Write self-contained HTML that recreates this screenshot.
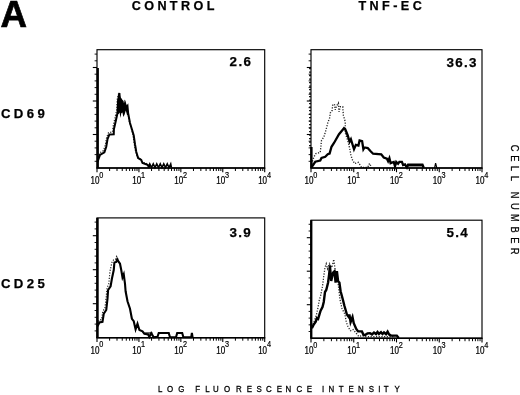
<!DOCTYPE html>
<html><head><meta charset="utf-8"><title>Figure A</title>
<style>html,body{margin:0;padding:0;background:#fff}svg{display:block}</style>
</head><body>
<svg width="520" height="395" viewBox="0 0 520 395">
<rect width="520" height="395" fill="#fff"/>
<text x="0.5" y="27.0" font-size="36.7" font-weight="bold" stroke="#000" stroke-width="0.7" font-family='"Liberation Sans", sans-serif'>A</text>
<text x="131.7" y="10.3" font-size="12.6" font-weight="bold" stroke="#000" stroke-width="0.25" letter-spacing="3.4" font-family='"Liberation Sans", sans-serif'>CONTROL</text>
<text x="358.4" y="10.3" font-size="12.6" font-weight="bold" stroke="#000" stroke-width="0.25" letter-spacing="3.45" font-family='"Liberation Sans", sans-serif'>TNF-EC</text>
<text x="0.9" y="118.4" font-size="13.2" font-weight="bold" stroke="#000" stroke-width="0.25" letter-spacing="3.4" font-family='"Liberation Sans", sans-serif'>CD69</text>
<text x="0.9" y="287.8" font-size="13.2" font-weight="bold" stroke="#000" stroke-width="0.25" letter-spacing="3.4" font-family='"Liberation Sans", sans-serif'>CD25</text>
<text transform="translate(0,392.2) scale(0.86,1)" x="186.40 197.91 210.76" y="0" text-anchor="middle" font-size="9.2" stroke="#000" stroke-width="0.3" font-family='"Liberation Sans", sans-serif'>LOG</text>
<text transform="translate(0,392.2) scale(0.86,1)" x="230.00 241.28 251.05 264.19 277.62 290.00 301.28 312.50 324.88 335.35 348.14 359.77" y="0" text-anchor="middle" font-size="9.2" stroke="#000" stroke-width="0.3" font-family='"Liberation Sans", sans-serif'>FLUORESCENCE</text>
<text transform="translate(0,392.2) scale(0.86,1)" x="375.70 385.41 396.80 408.43 419.65 431.92 440.99 449.13 461.86" y="0" text-anchor="middle" font-size="9.2" stroke="#000" stroke-width="0.3" font-family='"Liberation Sans", sans-serif'>INTENSITY</text>
<text transform="translate(510.7,0) rotate(90) scale(0.85,1)" x="174.24 186.24 198.00 209.76" y="0" text-anchor="middle" font-size="11" stroke="#000" stroke-width="0.25" font-family='"Liberation Sans", sans-serif'>CELL</text>
<text transform="translate(510.7,0) rotate(90) scale(0.85,1)" x="229.53 242.94 256.47 270.12 282.71 295.53" y="0" text-anchor="middle" font-size="11" stroke="#000" stroke-width="0.25" font-family='"Liberation Sans", sans-serif'>NUMBER</text>
<rect x="97" y="49.7" width="167.7" height="118.3" fill="none" stroke="#000" stroke-width="1.15"/>
<line x1="96.5" y1="168" x2="265.2" y2="168" stroke="#000" stroke-width="1.35"/>
<line x1="97.00" y1="168" x2="97.00" y2="172.2" stroke="#000" stroke-width="1.1"/>
<line x1="109.62" y1="168" x2="109.62" y2="171.0" stroke="#000" stroke-width="1.0"/>
<line x1="117.00" y1="168" x2="117.00" y2="171.0" stroke="#000" stroke-width="1.0"/>
<line x1="122.24" y1="168" x2="122.24" y2="171.0" stroke="#000" stroke-width="1.0"/>
<line x1="126.30" y1="168" x2="126.30" y2="171.0" stroke="#000" stroke-width="1.0"/>
<line x1="129.62" y1="168" x2="129.62" y2="171.0" stroke="#000" stroke-width="1.0"/>
<line x1="132.43" y1="168" x2="132.43" y2="171.0" stroke="#000" stroke-width="1.0"/>
<line x1="134.86" y1="168" x2="134.86" y2="171.0" stroke="#000" stroke-width="1.0"/>
<line x1="137.01" y1="168" x2="137.01" y2="171.0" stroke="#000" stroke-width="1.0"/>
<text transform="translate(99.40,183.8) scale(0.79,1)" text-anchor="end" font-size="10.2" stroke="#000" stroke-width="0.25" font-family='"Liberation Sans", sans-serif'>10</text>
<text transform="translate(99.20,177.7) scale(0.85,1)" font-size="8.6" stroke="#000" stroke-width="0.2" font-family='"Liberation Sans", sans-serif'>0</text>
<line x1="138.93" y1="168" x2="138.93" y2="172.2" stroke="#000" stroke-width="1.1"/>
<line x1="151.55" y1="168" x2="151.55" y2="171.0" stroke="#000" stroke-width="1.0"/>
<line x1="158.93" y1="168" x2="158.93" y2="171.0" stroke="#000" stroke-width="1.0"/>
<line x1="164.17" y1="168" x2="164.17" y2="171.0" stroke="#000" stroke-width="1.0"/>
<line x1="168.23" y1="168" x2="168.23" y2="171.0" stroke="#000" stroke-width="1.0"/>
<line x1="171.55" y1="168" x2="171.55" y2="171.0" stroke="#000" stroke-width="1.0"/>
<line x1="174.36" y1="168" x2="174.36" y2="171.0" stroke="#000" stroke-width="1.0"/>
<line x1="176.79" y1="168" x2="176.79" y2="171.0" stroke="#000" stroke-width="1.0"/>
<line x1="178.93" y1="168" x2="178.93" y2="171.0" stroke="#000" stroke-width="1.0"/>
<text transform="translate(141.33,183.8) scale(0.79,1)" text-anchor="end" font-size="10.2" stroke="#000" stroke-width="0.25" font-family='"Liberation Sans", sans-serif'>10</text>
<text transform="translate(141.12,177.7) scale(0.85,1)" font-size="8.6" stroke="#000" stroke-width="0.2" font-family='"Liberation Sans", sans-serif'>1</text>
<line x1="180.85" y1="168" x2="180.85" y2="172.2" stroke="#000" stroke-width="1.1"/>
<line x1="193.47" y1="168" x2="193.47" y2="171.0" stroke="#000" stroke-width="1.0"/>
<line x1="200.85" y1="168" x2="200.85" y2="171.0" stroke="#000" stroke-width="1.0"/>
<line x1="206.09" y1="168" x2="206.09" y2="171.0" stroke="#000" stroke-width="1.0"/>
<line x1="210.15" y1="168" x2="210.15" y2="171.0" stroke="#000" stroke-width="1.0"/>
<line x1="213.47" y1="168" x2="213.47" y2="171.0" stroke="#000" stroke-width="1.0"/>
<line x1="216.28" y1="168" x2="216.28" y2="171.0" stroke="#000" stroke-width="1.0"/>
<line x1="218.71" y1="168" x2="218.71" y2="171.0" stroke="#000" stroke-width="1.0"/>
<line x1="220.86" y1="168" x2="220.86" y2="171.0" stroke="#000" stroke-width="1.0"/>
<text transform="translate(183.25,183.8) scale(0.79,1)" text-anchor="end" font-size="10.2" stroke="#000" stroke-width="0.25" font-family='"Liberation Sans", sans-serif'>10</text>
<text transform="translate(183.05,177.7) scale(0.85,1)" font-size="8.6" stroke="#000" stroke-width="0.2" font-family='"Liberation Sans", sans-serif'>2</text>
<line x1="222.77" y1="168" x2="222.77" y2="172.2" stroke="#000" stroke-width="1.1"/>
<line x1="235.40" y1="168" x2="235.40" y2="171.0" stroke="#000" stroke-width="1.0"/>
<line x1="242.78" y1="168" x2="242.78" y2="171.0" stroke="#000" stroke-width="1.0"/>
<line x1="248.02" y1="168" x2="248.02" y2="171.0" stroke="#000" stroke-width="1.0"/>
<line x1="252.08" y1="168" x2="252.08" y2="171.0" stroke="#000" stroke-width="1.0"/>
<line x1="255.40" y1="168" x2="255.40" y2="171.0" stroke="#000" stroke-width="1.0"/>
<line x1="258.21" y1="168" x2="258.21" y2="171.0" stroke="#000" stroke-width="1.0"/>
<line x1="260.64" y1="168" x2="260.64" y2="171.0" stroke="#000" stroke-width="1.0"/>
<line x1="262.78" y1="168" x2="262.78" y2="171.0" stroke="#000" stroke-width="1.0"/>
<text transform="translate(225.17,183.8) scale(0.79,1)" text-anchor="end" font-size="10.2" stroke="#000" stroke-width="0.25" font-family='"Liberation Sans", sans-serif'>10</text>
<text transform="translate(224.97,177.7) scale(0.85,1)" font-size="8.6" stroke="#000" stroke-width="0.2" font-family='"Liberation Sans", sans-serif'>3</text>
<line x1="264.70" y1="168" x2="264.70" y2="172.2" stroke="#000" stroke-width="1.1"/>
<text transform="translate(267.10,183.8) scale(0.79,1)" text-anchor="end" font-size="10.2" stroke="#000" stroke-width="0.25" font-family='"Liberation Sans", sans-serif'>10</text>
<text transform="translate(266.90,177.7) scale(0.85,1)" font-size="8.6" stroke="#000" stroke-width="0.2" font-family='"Liberation Sans", sans-serif'>4</text>
<line x1="94.6" y1="161.30" x2="97" y2="161.30" stroke="#000" stroke-width="0.9"/>
<line x1="94.6" y1="154.60" x2="97" y2="154.60" stroke="#000" stroke-width="0.9"/>
<line x1="94.6" y1="147.90" x2="97" y2="147.90" stroke="#000" stroke-width="0.9"/>
<line x1="94.6" y1="141.20" x2="97" y2="141.20" stroke="#000" stroke-width="0.9"/>
<line x1="92.8" y1="134.50" x2="97" y2="134.50" stroke="#000" stroke-width="1.1"/>
<line x1="94.6" y1="127.80" x2="97" y2="127.80" stroke="#000" stroke-width="0.9"/>
<line x1="94.6" y1="121.10" x2="97" y2="121.10" stroke="#000" stroke-width="0.9"/>
<line x1="94.6" y1="114.40" x2="97" y2="114.40" stroke="#000" stroke-width="0.9"/>
<line x1="94.6" y1="107.70" x2="97" y2="107.70" stroke="#000" stroke-width="0.9"/>
<line x1="92.8" y1="101.00" x2="97" y2="101.00" stroke="#000" stroke-width="1.1"/>
<line x1="94.6" y1="94.30" x2="97" y2="94.30" stroke="#000" stroke-width="0.9"/>
<line x1="94.6" y1="87.60" x2="97" y2="87.60" stroke="#000" stroke-width="0.9"/>
<line x1="94.6" y1="80.90" x2="97" y2="80.90" stroke="#000" stroke-width="0.9"/>
<line x1="94.6" y1="74.20" x2="97" y2="74.20" stroke="#000" stroke-width="0.9"/>
<line x1="92.8" y1="67.50" x2="97" y2="67.50" stroke="#000" stroke-width="1.1"/>
<line x1="94.6" y1="60.80" x2="97" y2="60.80" stroke="#000" stroke-width="0.9"/>
<line x1="94.6" y1="54.10" x2="97" y2="54.10" stroke="#000" stroke-width="0.9"/>
<text x="229.6" y="66.2" font-size="13.4" font-weight="bold" stroke="#000" stroke-width="0.25" letter-spacing="1.35" font-family='"Liberation Sans", sans-serif'>2.6</text>
<rect x="311" y="49.7" width="171" height="118.3" fill="none" stroke="#000" stroke-width="1.15"/>
<line x1="310.5" y1="168" x2="482.5" y2="168" stroke="#000" stroke-width="1.35"/>
<line x1="311.00" y1="168" x2="311.00" y2="172.2" stroke="#000" stroke-width="1.1"/>
<line x1="323.87" y1="168" x2="323.87" y2="171.0" stroke="#000" stroke-width="1.0"/>
<line x1="331.40" y1="168" x2="331.40" y2="171.0" stroke="#000" stroke-width="1.0"/>
<line x1="336.74" y1="168" x2="336.74" y2="171.0" stroke="#000" stroke-width="1.0"/>
<line x1="340.88" y1="168" x2="340.88" y2="171.0" stroke="#000" stroke-width="1.0"/>
<line x1="344.27" y1="168" x2="344.27" y2="171.0" stroke="#000" stroke-width="1.0"/>
<line x1="347.13" y1="168" x2="347.13" y2="171.0" stroke="#000" stroke-width="1.0"/>
<line x1="349.61" y1="168" x2="349.61" y2="171.0" stroke="#000" stroke-width="1.0"/>
<line x1="351.79" y1="168" x2="351.79" y2="171.0" stroke="#000" stroke-width="1.0"/>
<text transform="translate(313.40,183.8) scale(0.79,1)" text-anchor="end" font-size="10.2" stroke="#000" stroke-width="0.25" font-family='"Liberation Sans", sans-serif'>10</text>
<text transform="translate(313.20,177.7) scale(0.85,1)" font-size="8.6" stroke="#000" stroke-width="0.2" font-family='"Liberation Sans", sans-serif'>0</text>
<line x1="353.75" y1="168" x2="353.75" y2="172.2" stroke="#000" stroke-width="1.1"/>
<line x1="366.62" y1="168" x2="366.62" y2="171.0" stroke="#000" stroke-width="1.0"/>
<line x1="374.15" y1="168" x2="374.15" y2="171.0" stroke="#000" stroke-width="1.0"/>
<line x1="379.49" y1="168" x2="379.49" y2="171.0" stroke="#000" stroke-width="1.0"/>
<line x1="383.63" y1="168" x2="383.63" y2="171.0" stroke="#000" stroke-width="1.0"/>
<line x1="387.02" y1="168" x2="387.02" y2="171.0" stroke="#000" stroke-width="1.0"/>
<line x1="389.88" y1="168" x2="389.88" y2="171.0" stroke="#000" stroke-width="1.0"/>
<line x1="392.36" y1="168" x2="392.36" y2="171.0" stroke="#000" stroke-width="1.0"/>
<line x1="394.54" y1="168" x2="394.54" y2="171.0" stroke="#000" stroke-width="1.0"/>
<text transform="translate(356.15,183.8) scale(0.79,1)" text-anchor="end" font-size="10.2" stroke="#000" stroke-width="0.25" font-family='"Liberation Sans", sans-serif'>10</text>
<text transform="translate(355.95,177.7) scale(0.85,1)" font-size="8.6" stroke="#000" stroke-width="0.2" font-family='"Liberation Sans", sans-serif'>1</text>
<line x1="396.50" y1="168" x2="396.50" y2="172.2" stroke="#000" stroke-width="1.1"/>
<line x1="409.37" y1="168" x2="409.37" y2="171.0" stroke="#000" stroke-width="1.0"/>
<line x1="416.90" y1="168" x2="416.90" y2="171.0" stroke="#000" stroke-width="1.0"/>
<line x1="422.24" y1="168" x2="422.24" y2="171.0" stroke="#000" stroke-width="1.0"/>
<line x1="426.38" y1="168" x2="426.38" y2="171.0" stroke="#000" stroke-width="1.0"/>
<line x1="429.77" y1="168" x2="429.77" y2="171.0" stroke="#000" stroke-width="1.0"/>
<line x1="432.63" y1="168" x2="432.63" y2="171.0" stroke="#000" stroke-width="1.0"/>
<line x1="435.11" y1="168" x2="435.11" y2="171.0" stroke="#000" stroke-width="1.0"/>
<line x1="437.29" y1="168" x2="437.29" y2="171.0" stroke="#000" stroke-width="1.0"/>
<text transform="translate(398.90,183.8) scale(0.79,1)" text-anchor="end" font-size="10.2" stroke="#000" stroke-width="0.25" font-family='"Liberation Sans", sans-serif'>10</text>
<text transform="translate(398.70,177.7) scale(0.85,1)" font-size="8.6" stroke="#000" stroke-width="0.2" font-family='"Liberation Sans", sans-serif'>2</text>
<line x1="439.25" y1="168" x2="439.25" y2="172.2" stroke="#000" stroke-width="1.1"/>
<line x1="452.12" y1="168" x2="452.12" y2="171.0" stroke="#000" stroke-width="1.0"/>
<line x1="459.65" y1="168" x2="459.65" y2="171.0" stroke="#000" stroke-width="1.0"/>
<line x1="464.99" y1="168" x2="464.99" y2="171.0" stroke="#000" stroke-width="1.0"/>
<line x1="469.13" y1="168" x2="469.13" y2="171.0" stroke="#000" stroke-width="1.0"/>
<line x1="472.52" y1="168" x2="472.52" y2="171.0" stroke="#000" stroke-width="1.0"/>
<line x1="475.38" y1="168" x2="475.38" y2="171.0" stroke="#000" stroke-width="1.0"/>
<line x1="477.86" y1="168" x2="477.86" y2="171.0" stroke="#000" stroke-width="1.0"/>
<line x1="480.04" y1="168" x2="480.04" y2="171.0" stroke="#000" stroke-width="1.0"/>
<text transform="translate(441.65,183.8) scale(0.79,1)" text-anchor="end" font-size="10.2" stroke="#000" stroke-width="0.25" font-family='"Liberation Sans", sans-serif'>10</text>
<text transform="translate(441.45,177.7) scale(0.85,1)" font-size="8.6" stroke="#000" stroke-width="0.2" font-family='"Liberation Sans", sans-serif'>3</text>
<line x1="482.00" y1="168" x2="482.00" y2="172.2" stroke="#000" stroke-width="1.1"/>
<text transform="translate(484.40,183.8) scale(0.79,1)" text-anchor="end" font-size="10.2" stroke="#000" stroke-width="0.25" font-family='"Liberation Sans", sans-serif'>10</text>
<text transform="translate(484.20,177.7) scale(0.85,1)" font-size="8.6" stroke="#000" stroke-width="0.2" font-family='"Liberation Sans", sans-serif'>4</text>
<line x1="308.6" y1="161.30" x2="311" y2="161.30" stroke="#000" stroke-width="0.9"/>
<line x1="308.6" y1="154.60" x2="311" y2="154.60" stroke="#000" stroke-width="0.9"/>
<line x1="308.6" y1="147.90" x2="311" y2="147.90" stroke="#000" stroke-width="0.9"/>
<line x1="308.6" y1="141.20" x2="311" y2="141.20" stroke="#000" stroke-width="0.9"/>
<line x1="306.8" y1="134.50" x2="311" y2="134.50" stroke="#000" stroke-width="1.1"/>
<line x1="308.6" y1="127.80" x2="311" y2="127.80" stroke="#000" stroke-width="0.9"/>
<line x1="308.6" y1="121.10" x2="311" y2="121.10" stroke="#000" stroke-width="0.9"/>
<line x1="308.6" y1="114.40" x2="311" y2="114.40" stroke="#000" stroke-width="0.9"/>
<line x1="308.6" y1="107.70" x2="311" y2="107.70" stroke="#000" stroke-width="0.9"/>
<line x1="306.8" y1="101.00" x2="311" y2="101.00" stroke="#000" stroke-width="1.1"/>
<line x1="308.6" y1="94.30" x2="311" y2="94.30" stroke="#000" stroke-width="0.9"/>
<line x1="308.6" y1="87.60" x2="311" y2="87.60" stroke="#000" stroke-width="0.9"/>
<line x1="308.6" y1="80.90" x2="311" y2="80.90" stroke="#000" stroke-width="0.9"/>
<line x1="308.6" y1="74.20" x2="311" y2="74.20" stroke="#000" stroke-width="0.9"/>
<line x1="306.8" y1="67.50" x2="311" y2="67.50" stroke="#000" stroke-width="1.1"/>
<line x1="308.6" y1="60.80" x2="311" y2="60.80" stroke="#000" stroke-width="0.9"/>
<line x1="308.6" y1="54.10" x2="311" y2="54.10" stroke="#000" stroke-width="0.9"/>
<text x="446.4" y="66.5" font-size="13.4" font-weight="bold" stroke="#000" stroke-width="0.25" letter-spacing="1.35" font-family='"Liberation Sans", sans-serif'>36.3</text>
<rect x="97" y="217.9" width="167.7" height="119.79999999999998" fill="none" stroke="#000" stroke-width="1.15"/>
<line x1="96.5" y1="337.7" x2="265.2" y2="337.7" stroke="#000" stroke-width="1.35"/>
<line x1="97.00" y1="337.7" x2="97.00" y2="341.9" stroke="#000" stroke-width="1.1"/>
<line x1="109.62" y1="337.7" x2="109.62" y2="340.7" stroke="#000" stroke-width="1.0"/>
<line x1="117.00" y1="337.7" x2="117.00" y2="340.7" stroke="#000" stroke-width="1.0"/>
<line x1="122.24" y1="337.7" x2="122.24" y2="340.7" stroke="#000" stroke-width="1.0"/>
<line x1="126.30" y1="337.7" x2="126.30" y2="340.7" stroke="#000" stroke-width="1.0"/>
<line x1="129.62" y1="337.7" x2="129.62" y2="340.7" stroke="#000" stroke-width="1.0"/>
<line x1="132.43" y1="337.7" x2="132.43" y2="340.7" stroke="#000" stroke-width="1.0"/>
<line x1="134.86" y1="337.7" x2="134.86" y2="340.7" stroke="#000" stroke-width="1.0"/>
<line x1="137.01" y1="337.7" x2="137.01" y2="340.7" stroke="#000" stroke-width="1.0"/>
<text transform="translate(99.40,353.5) scale(0.79,1)" text-anchor="end" font-size="10.2" stroke="#000" stroke-width="0.25" font-family='"Liberation Sans", sans-serif'>10</text>
<text transform="translate(99.20,347.4) scale(0.85,1)" font-size="8.6" stroke="#000" stroke-width="0.2" font-family='"Liberation Sans", sans-serif'>0</text>
<line x1="138.93" y1="337.7" x2="138.93" y2="341.9" stroke="#000" stroke-width="1.1"/>
<line x1="151.55" y1="337.7" x2="151.55" y2="340.7" stroke="#000" stroke-width="1.0"/>
<line x1="158.93" y1="337.7" x2="158.93" y2="340.7" stroke="#000" stroke-width="1.0"/>
<line x1="164.17" y1="337.7" x2="164.17" y2="340.7" stroke="#000" stroke-width="1.0"/>
<line x1="168.23" y1="337.7" x2="168.23" y2="340.7" stroke="#000" stroke-width="1.0"/>
<line x1="171.55" y1="337.7" x2="171.55" y2="340.7" stroke="#000" stroke-width="1.0"/>
<line x1="174.36" y1="337.7" x2="174.36" y2="340.7" stroke="#000" stroke-width="1.0"/>
<line x1="176.79" y1="337.7" x2="176.79" y2="340.7" stroke="#000" stroke-width="1.0"/>
<line x1="178.93" y1="337.7" x2="178.93" y2="340.7" stroke="#000" stroke-width="1.0"/>
<text transform="translate(141.33,353.5) scale(0.79,1)" text-anchor="end" font-size="10.2" stroke="#000" stroke-width="0.25" font-family='"Liberation Sans", sans-serif'>10</text>
<text transform="translate(141.12,347.4) scale(0.85,1)" font-size="8.6" stroke="#000" stroke-width="0.2" font-family='"Liberation Sans", sans-serif'>1</text>
<line x1="180.85" y1="337.7" x2="180.85" y2="341.9" stroke="#000" stroke-width="1.1"/>
<line x1="193.47" y1="337.7" x2="193.47" y2="340.7" stroke="#000" stroke-width="1.0"/>
<line x1="200.85" y1="337.7" x2="200.85" y2="340.7" stroke="#000" stroke-width="1.0"/>
<line x1="206.09" y1="337.7" x2="206.09" y2="340.7" stroke="#000" stroke-width="1.0"/>
<line x1="210.15" y1="337.7" x2="210.15" y2="340.7" stroke="#000" stroke-width="1.0"/>
<line x1="213.47" y1="337.7" x2="213.47" y2="340.7" stroke="#000" stroke-width="1.0"/>
<line x1="216.28" y1="337.7" x2="216.28" y2="340.7" stroke="#000" stroke-width="1.0"/>
<line x1="218.71" y1="337.7" x2="218.71" y2="340.7" stroke="#000" stroke-width="1.0"/>
<line x1="220.86" y1="337.7" x2="220.86" y2="340.7" stroke="#000" stroke-width="1.0"/>
<text transform="translate(183.25,353.5) scale(0.79,1)" text-anchor="end" font-size="10.2" stroke="#000" stroke-width="0.25" font-family='"Liberation Sans", sans-serif'>10</text>
<text transform="translate(183.05,347.4) scale(0.85,1)" font-size="8.6" stroke="#000" stroke-width="0.2" font-family='"Liberation Sans", sans-serif'>2</text>
<line x1="222.77" y1="337.7" x2="222.77" y2="341.9" stroke="#000" stroke-width="1.1"/>
<line x1="235.40" y1="337.7" x2="235.40" y2="340.7" stroke="#000" stroke-width="1.0"/>
<line x1="242.78" y1="337.7" x2="242.78" y2="340.7" stroke="#000" stroke-width="1.0"/>
<line x1="248.02" y1="337.7" x2="248.02" y2="340.7" stroke="#000" stroke-width="1.0"/>
<line x1="252.08" y1="337.7" x2="252.08" y2="340.7" stroke="#000" stroke-width="1.0"/>
<line x1="255.40" y1="337.7" x2="255.40" y2="340.7" stroke="#000" stroke-width="1.0"/>
<line x1="258.21" y1="337.7" x2="258.21" y2="340.7" stroke="#000" stroke-width="1.0"/>
<line x1="260.64" y1="337.7" x2="260.64" y2="340.7" stroke="#000" stroke-width="1.0"/>
<line x1="262.78" y1="337.7" x2="262.78" y2="340.7" stroke="#000" stroke-width="1.0"/>
<text transform="translate(225.17,353.5) scale(0.79,1)" text-anchor="end" font-size="10.2" stroke="#000" stroke-width="0.25" font-family='"Liberation Sans", sans-serif'>10</text>
<text transform="translate(224.97,347.4) scale(0.85,1)" font-size="8.6" stroke="#000" stroke-width="0.2" font-family='"Liberation Sans", sans-serif'>3</text>
<line x1="264.70" y1="337.7" x2="264.70" y2="341.9" stroke="#000" stroke-width="1.1"/>
<text transform="translate(267.10,353.5) scale(0.79,1)" text-anchor="end" font-size="10.2" stroke="#000" stroke-width="0.25" font-family='"Liberation Sans", sans-serif'>10</text>
<text transform="translate(266.90,347.4) scale(0.85,1)" font-size="8.6" stroke="#000" stroke-width="0.2" font-family='"Liberation Sans", sans-serif'>4</text>
<line x1="94.6" y1="330.90" x2="97" y2="330.90" stroke="#000" stroke-width="0.9"/>
<line x1="94.6" y1="324.10" x2="97" y2="324.10" stroke="#000" stroke-width="0.9"/>
<line x1="94.6" y1="317.30" x2="97" y2="317.30" stroke="#000" stroke-width="0.9"/>
<line x1="94.6" y1="310.50" x2="97" y2="310.50" stroke="#000" stroke-width="0.9"/>
<line x1="92.8" y1="303.70" x2="97" y2="303.70" stroke="#000" stroke-width="1.1"/>
<line x1="94.6" y1="296.90" x2="97" y2="296.90" stroke="#000" stroke-width="0.9"/>
<line x1="94.6" y1="290.10" x2="97" y2="290.10" stroke="#000" stroke-width="0.9"/>
<line x1="94.6" y1="283.30" x2="97" y2="283.30" stroke="#000" stroke-width="0.9"/>
<line x1="94.6" y1="276.50" x2="97" y2="276.50" stroke="#000" stroke-width="0.9"/>
<line x1="92.8" y1="269.70" x2="97" y2="269.70" stroke="#000" stroke-width="1.1"/>
<line x1="94.6" y1="262.90" x2="97" y2="262.90" stroke="#000" stroke-width="0.9"/>
<line x1="94.6" y1="256.10" x2="97" y2="256.10" stroke="#000" stroke-width="0.9"/>
<line x1="94.6" y1="249.30" x2="97" y2="249.30" stroke="#000" stroke-width="0.9"/>
<line x1="94.6" y1="242.50" x2="97" y2="242.50" stroke="#000" stroke-width="0.9"/>
<line x1="92.8" y1="235.70" x2="97" y2="235.70" stroke="#000" stroke-width="1.1"/>
<line x1="94.6" y1="228.90" x2="97" y2="228.90" stroke="#000" stroke-width="0.9"/>
<line x1="94.6" y1="222.10" x2="97" y2="222.10" stroke="#000" stroke-width="0.9"/>
<text x="229.4" y="236.5" font-size="13.4" font-weight="bold" stroke="#000" stroke-width="0.25" letter-spacing="1.35" font-family='"Liberation Sans", sans-serif'>3.9</text>
<rect x="311" y="220.2" width="171" height="118.0" fill="none" stroke="#000" stroke-width="1.15"/>
<line x1="310.5" y1="338.2" x2="482.5" y2="338.2" stroke="#000" stroke-width="1.35"/>
<line x1="311.00" y1="338.2" x2="311.00" y2="342.4" stroke="#000" stroke-width="1.1"/>
<line x1="323.87" y1="338.2" x2="323.87" y2="341.2" stroke="#000" stroke-width="1.0"/>
<line x1="331.40" y1="338.2" x2="331.40" y2="341.2" stroke="#000" stroke-width="1.0"/>
<line x1="336.74" y1="338.2" x2="336.74" y2="341.2" stroke="#000" stroke-width="1.0"/>
<line x1="340.88" y1="338.2" x2="340.88" y2="341.2" stroke="#000" stroke-width="1.0"/>
<line x1="344.27" y1="338.2" x2="344.27" y2="341.2" stroke="#000" stroke-width="1.0"/>
<line x1="347.13" y1="338.2" x2="347.13" y2="341.2" stroke="#000" stroke-width="1.0"/>
<line x1="349.61" y1="338.2" x2="349.61" y2="341.2" stroke="#000" stroke-width="1.0"/>
<line x1="351.79" y1="338.2" x2="351.79" y2="341.2" stroke="#000" stroke-width="1.0"/>
<text transform="translate(313.40,354.0) scale(0.79,1)" text-anchor="end" font-size="10.2" stroke="#000" stroke-width="0.25" font-family='"Liberation Sans", sans-serif'>10</text>
<text transform="translate(313.20,347.9) scale(0.85,1)" font-size="8.6" stroke="#000" stroke-width="0.2" font-family='"Liberation Sans", sans-serif'>0</text>
<line x1="353.75" y1="338.2" x2="353.75" y2="342.4" stroke="#000" stroke-width="1.1"/>
<line x1="366.62" y1="338.2" x2="366.62" y2="341.2" stroke="#000" stroke-width="1.0"/>
<line x1="374.15" y1="338.2" x2="374.15" y2="341.2" stroke="#000" stroke-width="1.0"/>
<line x1="379.49" y1="338.2" x2="379.49" y2="341.2" stroke="#000" stroke-width="1.0"/>
<line x1="383.63" y1="338.2" x2="383.63" y2="341.2" stroke="#000" stroke-width="1.0"/>
<line x1="387.02" y1="338.2" x2="387.02" y2="341.2" stroke="#000" stroke-width="1.0"/>
<line x1="389.88" y1="338.2" x2="389.88" y2="341.2" stroke="#000" stroke-width="1.0"/>
<line x1="392.36" y1="338.2" x2="392.36" y2="341.2" stroke="#000" stroke-width="1.0"/>
<line x1="394.54" y1="338.2" x2="394.54" y2="341.2" stroke="#000" stroke-width="1.0"/>
<text transform="translate(356.15,354.0) scale(0.79,1)" text-anchor="end" font-size="10.2" stroke="#000" stroke-width="0.25" font-family='"Liberation Sans", sans-serif'>10</text>
<text transform="translate(355.95,347.9) scale(0.85,1)" font-size="8.6" stroke="#000" stroke-width="0.2" font-family='"Liberation Sans", sans-serif'>1</text>
<line x1="396.50" y1="338.2" x2="396.50" y2="342.4" stroke="#000" stroke-width="1.1"/>
<line x1="409.37" y1="338.2" x2="409.37" y2="341.2" stroke="#000" stroke-width="1.0"/>
<line x1="416.90" y1="338.2" x2="416.90" y2="341.2" stroke="#000" stroke-width="1.0"/>
<line x1="422.24" y1="338.2" x2="422.24" y2="341.2" stroke="#000" stroke-width="1.0"/>
<line x1="426.38" y1="338.2" x2="426.38" y2="341.2" stroke="#000" stroke-width="1.0"/>
<line x1="429.77" y1="338.2" x2="429.77" y2="341.2" stroke="#000" stroke-width="1.0"/>
<line x1="432.63" y1="338.2" x2="432.63" y2="341.2" stroke="#000" stroke-width="1.0"/>
<line x1="435.11" y1="338.2" x2="435.11" y2="341.2" stroke="#000" stroke-width="1.0"/>
<line x1="437.29" y1="338.2" x2="437.29" y2="341.2" stroke="#000" stroke-width="1.0"/>
<text transform="translate(398.90,354.0) scale(0.79,1)" text-anchor="end" font-size="10.2" stroke="#000" stroke-width="0.25" font-family='"Liberation Sans", sans-serif'>10</text>
<text transform="translate(398.70,347.9) scale(0.85,1)" font-size="8.6" stroke="#000" stroke-width="0.2" font-family='"Liberation Sans", sans-serif'>2</text>
<line x1="439.25" y1="338.2" x2="439.25" y2="342.4" stroke="#000" stroke-width="1.1"/>
<line x1="452.12" y1="338.2" x2="452.12" y2="341.2" stroke="#000" stroke-width="1.0"/>
<line x1="459.65" y1="338.2" x2="459.65" y2="341.2" stroke="#000" stroke-width="1.0"/>
<line x1="464.99" y1="338.2" x2="464.99" y2="341.2" stroke="#000" stroke-width="1.0"/>
<line x1="469.13" y1="338.2" x2="469.13" y2="341.2" stroke="#000" stroke-width="1.0"/>
<line x1="472.52" y1="338.2" x2="472.52" y2="341.2" stroke="#000" stroke-width="1.0"/>
<line x1="475.38" y1="338.2" x2="475.38" y2="341.2" stroke="#000" stroke-width="1.0"/>
<line x1="477.86" y1="338.2" x2="477.86" y2="341.2" stroke="#000" stroke-width="1.0"/>
<line x1="480.04" y1="338.2" x2="480.04" y2="341.2" stroke="#000" stroke-width="1.0"/>
<text transform="translate(441.65,354.0) scale(0.79,1)" text-anchor="end" font-size="10.2" stroke="#000" stroke-width="0.25" font-family='"Liberation Sans", sans-serif'>10</text>
<text transform="translate(441.45,347.9) scale(0.85,1)" font-size="8.6" stroke="#000" stroke-width="0.2" font-family='"Liberation Sans", sans-serif'>3</text>
<line x1="482.00" y1="338.2" x2="482.00" y2="342.4" stroke="#000" stroke-width="1.1"/>
<text transform="translate(484.40,354.0) scale(0.79,1)" text-anchor="end" font-size="10.2" stroke="#000" stroke-width="0.25" font-family='"Liberation Sans", sans-serif'>10</text>
<text transform="translate(484.20,347.9) scale(0.85,1)" font-size="8.6" stroke="#000" stroke-width="0.2" font-family='"Liberation Sans", sans-serif'>4</text>
<line x1="308.6" y1="331.50" x2="311" y2="331.50" stroke="#000" stroke-width="0.9"/>
<line x1="308.6" y1="324.80" x2="311" y2="324.80" stroke="#000" stroke-width="0.9"/>
<line x1="308.6" y1="318.10" x2="311" y2="318.10" stroke="#000" stroke-width="0.9"/>
<line x1="308.6" y1="311.40" x2="311" y2="311.40" stroke="#000" stroke-width="0.9"/>
<line x1="306.8" y1="304.70" x2="311" y2="304.70" stroke="#000" stroke-width="1.1"/>
<line x1="308.6" y1="298.00" x2="311" y2="298.00" stroke="#000" stroke-width="0.9"/>
<line x1="308.6" y1="291.30" x2="311" y2="291.30" stroke="#000" stroke-width="0.9"/>
<line x1="308.6" y1="284.60" x2="311" y2="284.60" stroke="#000" stroke-width="0.9"/>
<line x1="308.6" y1="277.90" x2="311" y2="277.90" stroke="#000" stroke-width="0.9"/>
<line x1="306.8" y1="271.20" x2="311" y2="271.20" stroke="#000" stroke-width="1.1"/>
<line x1="308.6" y1="264.50" x2="311" y2="264.50" stroke="#000" stroke-width="0.9"/>
<line x1="308.6" y1="257.80" x2="311" y2="257.80" stroke="#000" stroke-width="0.9"/>
<line x1="308.6" y1="251.10" x2="311" y2="251.10" stroke="#000" stroke-width="0.9"/>
<line x1="308.6" y1="244.40" x2="311" y2="244.40" stroke="#000" stroke-width="0.9"/>
<line x1="306.8" y1="237.70" x2="311" y2="237.70" stroke="#000" stroke-width="1.1"/>
<line x1="308.6" y1="231.00" x2="311" y2="231.00" stroke="#000" stroke-width="0.9"/>
<line x1="308.6" y1="224.30" x2="311" y2="224.30" stroke="#000" stroke-width="0.9"/>
<text x="446.4" y="237.0" font-size="13.4" font-weight="bold" stroke="#000" stroke-width="0.25" letter-spacing="1.35" font-family='"Liberation Sans", sans-serif'>5.4</text>
<rect x="96.5" y="68" width="2.4" height="100" fill="#000"/>
<polyline points="97.50,162.00 100.00,155.00 104.40,152.40 106.25,146.75 107.50,139.25 109.40,134.40 113.75,134.20 113.90,129.25 115.60,121.75 117.50,113.00 118.10,100.50 119.40,93.00 120.00,100.50 120.60,104.25 121.25,99.90 122.50,101.75 123.10,106.75 125.00,103.00 126.25,108.00 127.50,106.10 128.10,113.00 130.00,123.00 131.90,129.25 133.75,135.50 135.00,144.25 136.25,151.75 138.10,158.00 141.25,159.90 142.50,163.00 147.50,164.90 150.00,167.20" fill="none" stroke="#000" stroke-width="2.0" stroke-linejoin="miter" />
<polygon points="117.2,114 117.5,101 118.5,96 119.4,92.8 120.2,96.5 120.9,100 122,99.6 123,101.2 124,103.6 125.3,102.8 126.2,105.5 127.5,105.8 128.3,111.5 128.8,115 127,115 125.8,110.5 124.6,114.5 123.4,117 122.4,112.5 121.3,113.2 120.4,118 119.6,112.5 118.6,114" fill="#000"/>
<polyline points="97.50,160.00 99.50,153.00 103.50,150.50 105.30,145.00 106.60,137.50 108.50,132.50 112.60,132.00 113.00,127.00 114.60,119.50 116.50,111.00 117.30,99.00 118.60,93.50 119.40,100.00 120.20,98.00 121.50,100.00 122.50,104.00 124.20,101.00 125.50,106.00 126.80,104.50 127.50,111.00 129.30,121.50 131.00,127.50 132.80,134.00 134.00,142.50 135.30,150.00 137.20,156.50 140.30,158.50 141.60,161.50 146.50,163.50 149.00,166.50" fill="none" stroke="#000" stroke-width="1.2" stroke-linejoin="miter" stroke-dasharray="1.2 1.5" opacity="0.85"/>
<polyline points="148.00,167.60 149.75,163.80 151.50,167.60 153.25,163.80 155.00,167.60 156.75,163.80 158.50,167.60 160.25,163.80 162.00,167.60 163.75,163.80 165.50,167.60 167.25,163.80 169.00,167.60 170.75,163.80 171.50,167.60" fill="none" stroke="#000" stroke-width="1.5" stroke-linejoin="miter" />
<rect x="310.2" y="147" width="2.4" height="21" fill="#000"/>
<polyline points="311.60,167.50 312.75,165.50 315.25,161.75 320.25,160.50 321.50,158.00 325.25,156.75 327.75,154.25 329.60,153.60 331.50,146.75 334.00,143.00 339.00,134.25 342.10,130.50 344.00,128.20 345.25,129.25 347.75,135.50 349.60,141.75 350.90,139.25 354.00,149.25 355.90,144.90 358.40,145.50 359.60,140.50 362.10,141.10 363.40,149.25 364.60,147.40 367.75,148.00 370.60,151.25 373.10,153.75 381.25,154.40 383.75,157.50 386.90,158.75 388.10,161.25 389.40,158.10 390.60,163.10 393.75,161.90 395.00,166.25 396.25,161.90 398.10,163.75 399.40,161.90 401.90,161.90 403.10,165.00 405.00,164.40 406.90,167.50 408.10,164.75 422.50,164.75 423.75,167.75" fill="none" stroke="#000" stroke-width="2.3" stroke-linejoin="miter" />
<polyline points="311.50,164.00 314.00,156.75 315.90,153.60 320.25,152.40 321.50,140.50 324.00,136.75 326.50,128.00 327.75,123.00 329.60,118.00 330.25,113.00 332.10,110.50 332.75,104.25 334.60,104.90 335.25,109.90 336.50,106.00 338.40,103.00 339.00,111.75 340.25,106.75 342.75,106.75 343.40,115.50 345.25,121.75 345.30,133.00 347.75,140.50 349.60,148.00 350.90,154.90 352.10,159.25 354.60,163.60 358.40,162.40 359.60,164.25 361.50,167.40 367.75,167.40 369.00,164.25 370.25,163.60 370.90,168.00" fill="none" stroke="#000" stroke-width="1.35" stroke-linejoin="miter" stroke-dasharray="1.2 1.5" opacity="0.85"/>
<line x1="310.0" y1="68" x2="310.0" y2="147" stroke="#000" stroke-width="1.8" stroke-dasharray="1.3 2.2"/>
<polyline points="434.60,167.80 435.60,163.20 436.80,167.80" fill="none" stroke="#000" stroke-width="1.2" stroke-linejoin="miter" />
<polyline points="408.10,166.60 422.50,166.60" fill="none" stroke="#000" stroke-width="0.8" stroke-linejoin="miter" opacity="0.6"/>
<rect x="96.2" y="218" width="2.5" height="120" fill="#000"/>
<polyline points="97.50,326.25 99.40,322.50 102.50,321.90 103.75,313.75 106.25,310.00 107.50,298.75 108.10,290.00 110.60,286.25 111.90,278.75 113.75,270.00 114.40,262.50 116.25,261.90 117.25,259.20 118.75,261.90 120.00,263.75 121.25,270.00 122.50,277.50 123.75,274.40 125.00,283.75 125.60,291.25 127.50,301.25 130.00,308.75 131.90,318.75 133.75,321.25 135.60,329.40 137.50,323.75 139.40,330.00 142.50,331.25 144.40,333.75 148.10,334.40 149.40,336.90 151.25,333.10 153.75,337.30 157.50,336.80 158.75,333.00 168.75,333.00 170.00,337.30 176.00,337.30 177.20,333.00 182.20,333.00 183.40,337.30 191.20,337.30 191.90,333.00 192.60,337.30" fill="none" stroke="#000" stroke-width="2.1" stroke-linejoin="miter" />
<polyline points="97.50,324.00 99.00,320.00 101.60,319.50 102.80,311.50 105.00,307.50 106.30,296.00 107.00,288.00 108.75,284.00 110.00,271.25 111.90,262.50 113.50,260.00 115.50,259.50 116.60,256.50 118.00,259.50" fill="none" stroke="#000" stroke-width="1.2" stroke-linejoin="miter" stroke-dasharray="1.2 1.5" opacity="0.85"/>
<polyline points="145.00,333.00 152.50,333.00" fill="none" stroke="#000" stroke-width="1.2" stroke-linejoin="miter" />
<rect x="310.1" y="220.2" width="2.3" height="118" fill="#000"/>
<polyline points="311.90,328.25 313.75,324.50 315.60,322.00 316.90,318.25 318.10,318.90 320.60,310.75 322.50,307.00 323.75,302.00 325.00,292.00 326.25,290.00 328.10,282.50 329.20,274.00 329.90,265.30 331.20,281.00 333.10,272.50 334.40,271.25 335.60,282.50 336.90,271.25 338.10,281.25 339.40,282.50 340.60,291.25 342.50,298.25 344.40,305.75 346.90,314.50 348.75,317.00 349.40,314.50 350.60,322.00 352.50,317.00 353.75,323.25 356.25,328.90 358.10,331.40 361.90,331.40 363.60,335.00 365.00,335.00 367.50,333.40 370.00,333.20 372.00,334.40 374.00,332.60 376.00,334.00 377.50,332.00 379.00,334.00 381.00,332.20 382.50,334.00 384.00,332.40 386.00,334.20 387.60,331.60 389.00,334.40 391.00,335.60 396.80,335.60 398.75,338.00" fill="none" stroke="#000" stroke-width="2.4" stroke-linejoin="miter" />
<polyline points="311.90,327.00 314.40,320.75 316.25,315.75 318.10,307.00 319.40,299.50 320.60,295.75 322.50,286.25 323.75,276.25 325.00,267.50 326.25,263.75 327.50,268.75 329.40,263.75 330.60,266.25 331.90,267.50 333.75,259.40 335.00,268.75 336.40,276.00 338.20,284.00 340.00,299.50 341.90,308.25 345.00,314.50 346.25,322.00 348.10,327.00 350.60,330.75 353.10,329.50 356.25,333.25 358.75,336.40 362.50,335.60 365.00,336.60 395.00,336.60" fill="none" stroke="#000" stroke-width="1.3" stroke-linejoin="miter" stroke-dasharray="1.2 1.5" opacity="0.85"/>
</svg>
</body></html>
